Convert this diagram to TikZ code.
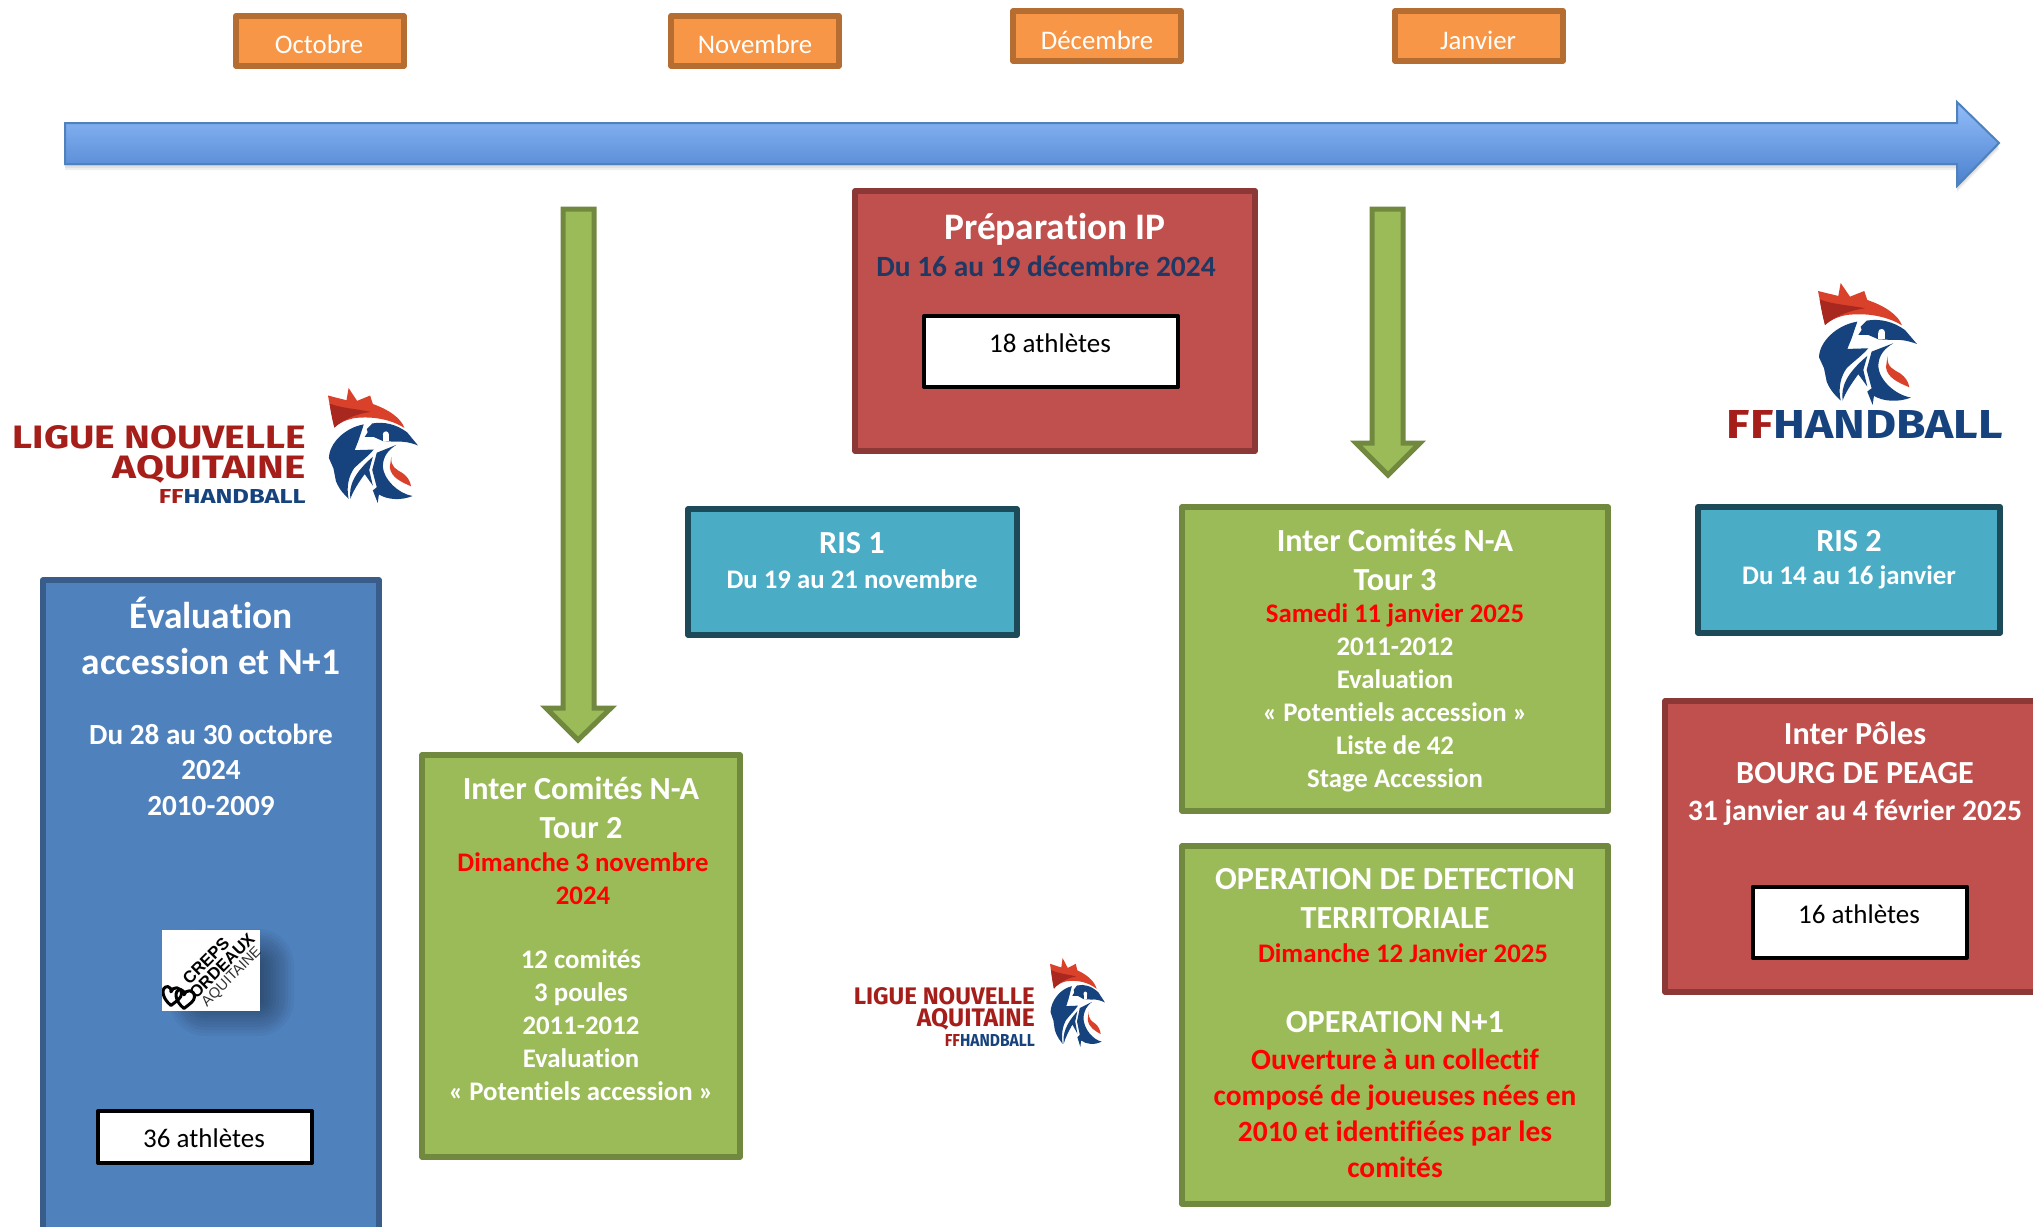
\documentclass[tikz,border=0pt]{standalone}
\usepackage{fontspec}
\usepackage{graphicx}
\setmainfont[Ligatures=NoCommon]{Carlito}
\newfontfamily\logofont{Fira Sans}
\newfontfamily\crepsfont{Liberation Sans}
\definecolor{bluefill}{HTML}{4F81BD}
\definecolor{blueline}{HTML}{385D8A}
\definecolor{redfill}{HTML}{C0504D}
\definecolor{redline}{HTML}{8C3836}
\definecolor{greenfill}{HTML}{9BBB59}
\definecolor{greenline}{HTML}{71893F}
\definecolor{tealfill}{HTML}{4BACC6}
\definecolor{tealline}{HTML}{1D4A58}
\definecolor{orangefill}{HTML}{F79646}
\definecolor{orangeline}{HTML}{B66D31}
\definecolor{navytext}{HTML}{1F3864}
\definecolor{logored}{HTML}{A61E1A}
\definecolor{combred}{HTML}{D9412B}
\definecolor{combdark}{HTML}{A8271E}
\definecolor{logoblue}{HTML}{16437E}
\definecolor{arrowtop}{RGB}{146,189,250}
\definecolor{arrowbot}{RGB}{74,128,205}
\tikzset{
  x=1pt,y=-1pt,
  box/.style={draw,line width=5.8pt,line join=round,anchor=north west,inner sep=0pt,outer sep=0pt},
  monthbox/.style={box,fill=orangefill,draw=orangeline},
  greenbox/.style={box,fill=greenfill,draw=greenline},
  redbox/.style={box,fill=redfill,draw=redline},
  tealbox/.style={box,fill=tealfill,draw=tealline},
  bluebox/.style={box,fill=bluefill,draw=blueline},
  whitebox/.style={box,fill=white,draw=black,line width=4pt},
  txt/.style={align=center,inner sep=0pt,text=white,font=\fontsize{#1}{35.5}\selectfont\bfseries},
  big/.style={align=center,inner sep=0pt,text=white,font=\fontsize{32.2}{39}\selectfont\bfseries},
  small/.style={align=center,inner sep=0pt,text=white,font=\fontsize{26.8}{33}\selectfont\bfseries},
  redtext/.style={small,text=red},
  redlarge/.style={align=center,inner sep=0pt,text=red,font=\fontsize{29.4}{36}\selectfont\bfseries},
  huge/.style={align=center,inner sep=0pt,text=white,font=\fontsize{37.4}{46}\selectfont\bfseries},
  month/.style={inner sep=0pt,text=white,font=\fontsize{26.8}{30}\selectfont},
  count/.style={inner sep=0pt,text=black,font=\fontsize{27}{30}\selectfont},
  greenarrow/.style={fill=greenfill,draw=greenline,line width=5pt,miter limit=10},
  logotext/.style={inner sep=0pt,anchor=north east,font=\logofont\bfseries},
  crepstext/.style={rotate=45,inner sep=0pt,text=black,font=\crepsfont\fontsize{16.8}{18}\selectfont\bfseries},
}
% rooster drawn in the coordinates of its 297 x 366 design box
\newcommand{\roosterlogo}[4]{%
\begin{scope}[shift={(#1,#2)},xscale=#3,yscale=#4,shift={(-24,-9)}]
  \fill[combred] (24,33) -- (85,48) -- (92,9) -- (120,50) -- (163,33) -- (172,60)
     .. controls (225,78) and (265,105) .. (276,136)
     .. controls (230,108) and (170,98) .. (110,105)
     .. controls (85,110) and (60,120) .. (45,135)
     .. controls (38,100) and (30,65) .. (24,33) -- cycle;
  \fill[combdark] (29,58) .. controls (60,72) and (120,76) .. (165,85)
     .. controls (125,90) and (80,105) .. (45,135)
     .. controls (38,110) and (33,85) .. (29,58) -- cycle;
  \fill[combred] (233,228) .. controls (230,262) and (250,268) .. (270,280)
     .. controls (285,290) and (296,305) .. (298,322)
     .. controls (270,310) and (232,295) .. (228,262) -- cycle;
  \fill[logoblue] (142,125) .. controls (80,135) and (28,185) .. (27,232) -- (42,265) -- (50,305)
     .. controls (62,335) and (80,350) .. (92,362)
     .. controls (83,320) and (95,285) .. (110,265)
     .. controls (130,245) and (155,228) .. (175,205) -- (112,207) -- (125,175) -- cycle;
  \fill[logoblue] (152,140) -- (170,122) .. controls (210,115) and (250,125) .. (285,150)
     -- (321,192) .. controls (295,182) and (270,178) .. (245,180)
     -- (205,178) -- (175,165) -- (145,165) -- (155,150) -- cycle;
  \fill[white] (215,157) circle[radius=10];
  \fill[white] (205,160) rectangle (225,178);
  \fill[logoblue] (250,190) .. controls (225,205) and (205,225) .. (205,260)
     .. controls (208,300) and (255,345) .. (303,353)
     .. controls (265,368) and (220,365) .. (192,348) -- (188,375) -- (172,335) -- (185,325)
     -- (170,270) -- (185,215) -- cycle;
  \fill[logoblue] (172,228) -- (160,270) -- (172,320) -- (145,283)
     .. controls (125,310) and (105,340) .. (98,362)
     .. controls (92,320) and (110,280) .. (172,228) -- cycle;
\end{scope}}
\begin{document}
\begin{tikzpicture}
\useasboundingbox (0,0) rectangle (2033,1226);
\clip (0,0) rectangle (2033,1226);
\fill[white] (0,0) rectangle (2033,1226);

% months
\node[monthbox,minimum width=168pt,minimum height=50pt] (boxoct) at (236,16) {};
\node[month] (toct) at (319,44.5) {Octobre};
\node[monthbox,minimum width=168pt,minimum height=50pt] (boxnov) at (671,16) {};
\node[month] (tnov) at (755,44.5) {Novembre};
\node[monthbox,minimum width=168pt,minimum height=50pt] (boxdec) at (1013,11) {};
\node[month] (tdec) at (1097,40.5) {Décembre};
\node[monthbox,minimum width=168pt,minimum height=50pt] (boxjan) at (1395,11) {};
\node[month] (tjan) at (1478,40.5) {Janvier};

% timeline arrow
\foreach \d in {2,4,6}
  \fill[black,opacity=.06] (65,{123+\d}) -- (1957,{123+\d}) -- (1957,{101+\d}) -- (1999,{143+\d}) -- (1957,{186+\d}) -- (1957,{164+\d}) -- (65,{164+\d}) -- cycle;
\shade[draw=bluefill,line width=2pt,top color=arrowtop,bottom color=arrowbot]
  (65,123) -- (1957,123) -- (1957,102) -- (1999,143) -- (1957,186) -- (1957,164) -- (65,164) -- cycle;

% green arrows
\draw[greenarrow] (563,209) -- (594,209) -- (594,708) -- (611,708) -- (578,740) -- (546,708) -- (563,708) -- cycle;
\draw[greenarrow] (1372,209) -- (1403,209) -- (1403,443) -- (1420,443) -- (1388,475) -- (1356,443) -- (1372,443) -- cycle;

% Evaluation
\node[bluebox,minimum width=336pt,minimum height=680pt] (eval) at (43,580) {};
\node[huge] (evaltitle) at (211,636) {Évaluation\\accession et N+1};
\node[txt=29.2] (evaldates) at (211,769.5) {Du 28 au 30 octobre\\2024\\2010-2009};
\node[whitebox,minimum width=214pt,minimum height=52pt] (evalcount) at (98,1111) {};
\node[count] (tevalcount) at (204,1138.5) {36 athlètes};

% Creps logo
\foreach \r in {36,33,...,3}
  \fill[black,opacity=.035,rounded corners=\r pt] ({205-\r},{965-\r}) rectangle ({258+\r},{1000+\r});
\node[fill=white,anchor=north west,inner sep=0pt,minimum width=98pt,minimum height=81pt] (crepsbox) at (162,930) {};
\begin{scope}
  \clip (162,930) rectangle (260,1011);
  \node[crepstext] (creps) at (206,961) {CREPS};
  \node[crepstext] (ordeaux) at (222,966) {ORDEAUX};
  \node[crepstext,text=black!80,font=\crepsfont\fontsize{14.6}{18}\selectfont] (aquit) at (232,977) {AQUITAINE};
  \foreach \cx/\cy in {171/996,184/999}
    \draw[black,line width=3pt,line join=round,shift={(\cx,\cy)},scale=1.05] (0,9) .. controls (-9,2) and (-10,-9) .. (-3,-9) .. controls (0,-9) and (0,-6) .. (0,-4) .. controls (1,-9) and (10,-10) .. (10,-2) .. controls (10,2) and (5,5) .. (0,9) -- cycle;
\end{scope}

% top-left logo
\node[logotext,text=logored] (lna1a) at (306,425) {\resizebox{293pt}{23pt}{LIGUE NOUVELLE}};
\node[logotext,text=logored] (lna1b) at (306,455) {\resizebox{193pt}{23pt}{AQUITAINE}};
\node[logotext,text=logoblue] (lna1c) at (306,489) {\resizebox{147pt}{14pt}{\textcolor{logored}{FF}HANDBALL}};
\roosterlogo{328}{388}{0.303}{0.314}

% Tour 2
\node[greenbox,minimum width=318pt,minimum height=402pt] (tour2) at (422,755) {};
\node[big] (t2title) at (581,808) {Inter Comités N-A\\Tour 2};
\node[redtext] (t2date) at (583,879) {Dimanche 3 novembre\\2024};
\node[small] (t2body) at (581,1025.5) {12 comités\\3 poules\\2011-2012\\Evaluation\\« Potentiels accession »};

% Preparation
\node[redbox,minimum width=400pt,minimum height=260pt] (prep) at (855,191) {};
\node[huge] (preptitle) at (1055,229) {Préparation IP};
\node[txt=29.4,text=navytext] (prepdate) at (1046,266.5) {Du 16 au 19 décembre 2024};
\node[whitebox,minimum width=254pt,minimum height=71pt] (prepcount) at (924,316) {};
\node[count] (tprepcount) at (1050,343.5) {18 athlètes};

% RIS 1
\node[tealbox,minimum width=329pt,minimum height=126pt] (ris1) at (688,509) {};
\node[big] (ris1a) at (852,543) {RIS 1};
\node[small] (ris1b) at (852,579) {Du 19 au 21 novembre};

% Tour 3
\node[greenbox,minimum width=426pt,minimum height=304pt] (tour3) at (1182,507) {};
\node[big] (t3title) at (1395,560) {Inter Comités N-A\\Tour 3};
\node[redtext] (t3date) at (1395,615.5) {Samedi 11 janvier 2025};
\node[small] (t3body) at (1395,714.5) {2011-2012\\Evaluation\\« Potentiels accession »\\Liste de 42\\Stage Accession};

% Operation
\node[greenbox,minimum width=426pt,minimum height=358pt] (oper) at (1182,846) {};
\node[big] (optitle) at (1395,899) {OPERATION DE DETECTION\\TERRITORIALE};
\node[redtext] (opdate) at (1403,953.5) {Dimanche 12 Janvier 2025};
\node[big] (opn) at (1395,1022) {OPERATION N+1};
\node[redlarge] (opbody) at (1395,1113) {Ouverture à un collectif\\composé de joueuses nées en\\2010 et identifiées par les\\comités};

% RIS 2
\node[tealbox,minimum width=302pt,minimum height=126pt] (ris2) at (1698,507) {};
\node[big] (ris2a) at (1849,541) {RIS 2};
\node[small] (ris2b) at (1849,577) {Du 14 au 16 janvier};

% Inter Poles
\node[redbox,minimum width=380pt,minimum height=291pt] (poles) at (1665,701) {};
\node[big] (polestitle) at (1855,753) {Inter Pôles\\BOURG DE PEAGE};
\node[txt=29.6] (polesdate) at (1855,813) {31 janvier au 4 février 2025};
\node[whitebox,minimum width=214pt,minimum height=71pt] (polescount) at (1752.5,886.5) {};
\node[count] (tpolescount) at (1859,914.5) {16 athlètes};

% middle logo
\node[logotext,text=logored] (lna2a) at (1035,987) {\resizebox{181pt}{17pt}{LIGUE NOUVELLE}};
\node[logotext,text=logored] (lna2b) at (1035,1008) {\resizebox{118pt}{18pt}{AQUITAINE}};
\node[logotext,text=logoblue] (lna2c) at (1035,1034) {\resizebox{90pt}{12pt}{\textcolor{logored}{FF}HANDBALL}};
\roosterlogo{1050}{958}{0.185}{0.243}

% top-right logo
\roosterlogo{1818}{283}{0.333}{0.333}
\node[logotext,text=logoblue] (ffh) at (2003,410) {\resizebox{276pt}{28pt}{\textcolor{logored}{FF}HANDBALL}};
\end{tikzpicture}
\end{document}
